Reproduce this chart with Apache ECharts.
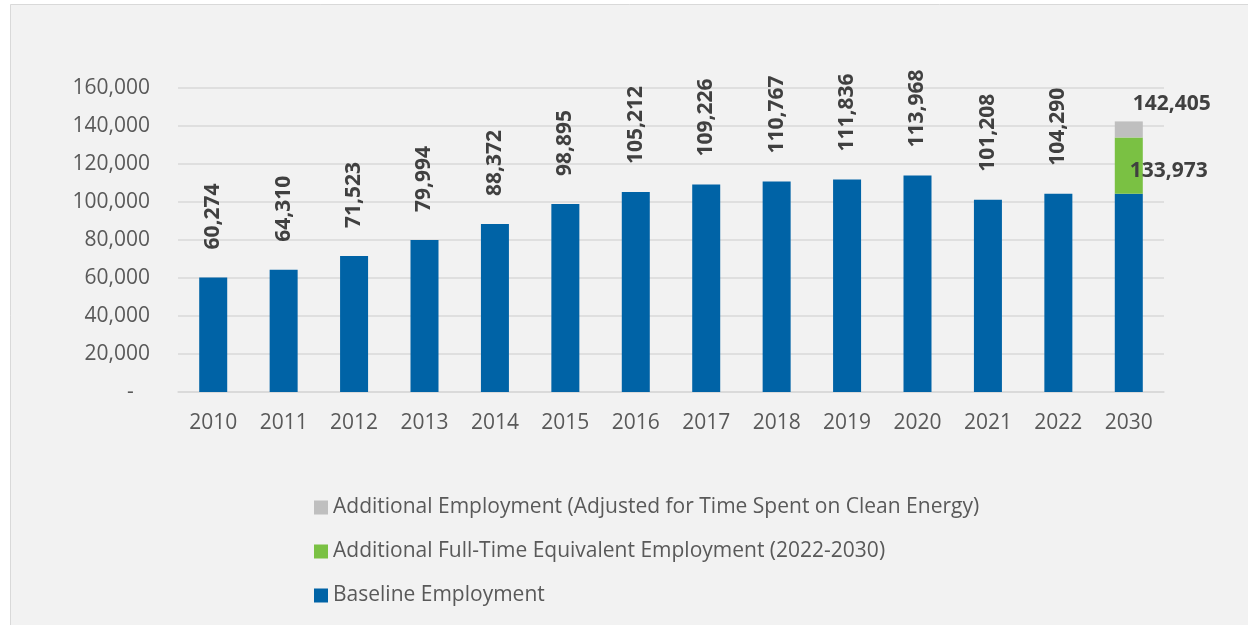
<!DOCTYPE html>
<html>
<head>
<meta charset="utf-8">
<script src="https://cdn.jsdelivr.net/npm/echarts@6/dist/echarts.min.js"></script>
<style>
  html, body { margin: 0; padding: 0; background: #ffffff; }
  #chart { width: 1248px; height: 625px; }
</style>
</head>
<body>
<div id="chart"></div>
<script>
// categories and values
const years = ['2010', '2011', '2012', '2013', '2014', '2015', '2016', '2017', '2018', '2019', '2020', '2021', '2022', '2030']
const baseline = [60274, 64310, 71523, 79994, 88372, 98895, 105212, 109226, 110767, 111836, 113968, 101208, 104290, 104290]
const additionalFte = [null, null, null, null, null, null, null, null, null, null, null, null, null, 29683]
const additionalAdjusted = [null, null, null, null, null, null, null, null, null, null, null, null, null, 8432]
const fteTotal = 133973
const adjustedTotal = 142405
const yTicks = [0, 20000, 40000, 60000, 80000, 100000, 120000, 140000, 160000]

const seriesNames = [
  'Additional Employment (Adjusted for Time Spent on Clean Energy)',
  'Additional Full-Time Equivalent Employment (2022-2030)',
  'Baseline Employment',
]

const fmt = (v) => v.toLocaleString('en-US')
const font = '"Open Sans", sans-serif'

const chart = echarts.init(document.getElementById('chart'))

chart.setOption({
  animation: false,
  textStyle: { fontFamily: font },
  graphic: [
    {
      type: 'rect',
      z: -10,
      shape: { x: 10.5, y: 4.5, width: 1250, height: 640 },
      style: { fill: '#f2f2f2', stroke: '#d9d9d9', lineWidth: 1 },
    },
  ],
  grid: { left: 178, right: 84, top: 88, bottom: 233 },
  legend: {
    orient: 'vertical',
    left: 309,
    top: 492,
    itemGap: 23,
    itemWidth: 14,
    itemHeight: 14,
    icon: 'rect',
    data: seriesNames,
    textStyle: { color: '#595959', fontSize: 21, fontFamily: font },
  },
  xAxis: {
    type: 'category',
    data: years,
    axisTick: { show: false },
    axisLine: { lineStyle: { color: '#d9d9d9', width: 1.5 } },
    axisLabel: { color: '#595959', fontSize: 21, margin: 21 },
  },
  yAxis: {
    type: 'value',
    min: 0,
    max: yTicks[yTicks.length - 1],
    interval: yTicks[1] - yTicks[0],
    axisLine: { show: false },
    axisTick: { show: false },
    splitLine: { lineStyle: { color: '#d9d9d9', width: 1.5 } },
    axisLabel: {
      color: '#595959',
      fontSize: 21,
      margin: 28,
      formatter: (v) => (v === 0 ? '-   ' : fmt(v)),
    },
  },
  series: [
    {
      name: seriesNames[2],
      type: 'bar',
      stack: 'emp',
      barWidth: 28,
      data: baseline.map((v, i) => ({
        value: v,
        label: { show: i < years.length - 1 },
      })),
      itemStyle: { color: '#0063a6' },
      label: {
        show: true,
        position: 'top',
        rotate: 90,
        align: 'left',
        verticalAlign: 'middle',
        distance: 28,
        color: '#404040',
        fontSize: 21,
        fontWeight: 'bold',
        formatter: (p) => fmt(p.value),
      },
    },
    {
      name: seriesNames[1],
      type: 'bar',
      stack: 'emp',
      barWidth: 28,
      data: additionalFte,
      itemStyle: { color: '#7ac143' },
      label: {
        show: true,
        position: 'right',
        distance: 0,
        offset: [-13, 5],
        color: '#404040',
        fontSize: 21,
        fontWeight: 'bold',
        formatter: () => fmt(fteTotal),
      },
    },
    {
      name: seriesNames[0],
      type: 'bar',
      stack: 'emp',
      barWidth: 28,
      data: additionalAdjusted,
      itemStyle: { color: '#bfbfbf' },
      label: {
        show: true,
        position: 'right',
        distance: 0,
        offset: [-10, -25],
        color: '#404040',
        fontSize: 21,
        fontWeight: 'bold',
        formatter: () => fmt(adjustedTotal),
      },
    },
  ],
})
</script>
</body>
</html>
